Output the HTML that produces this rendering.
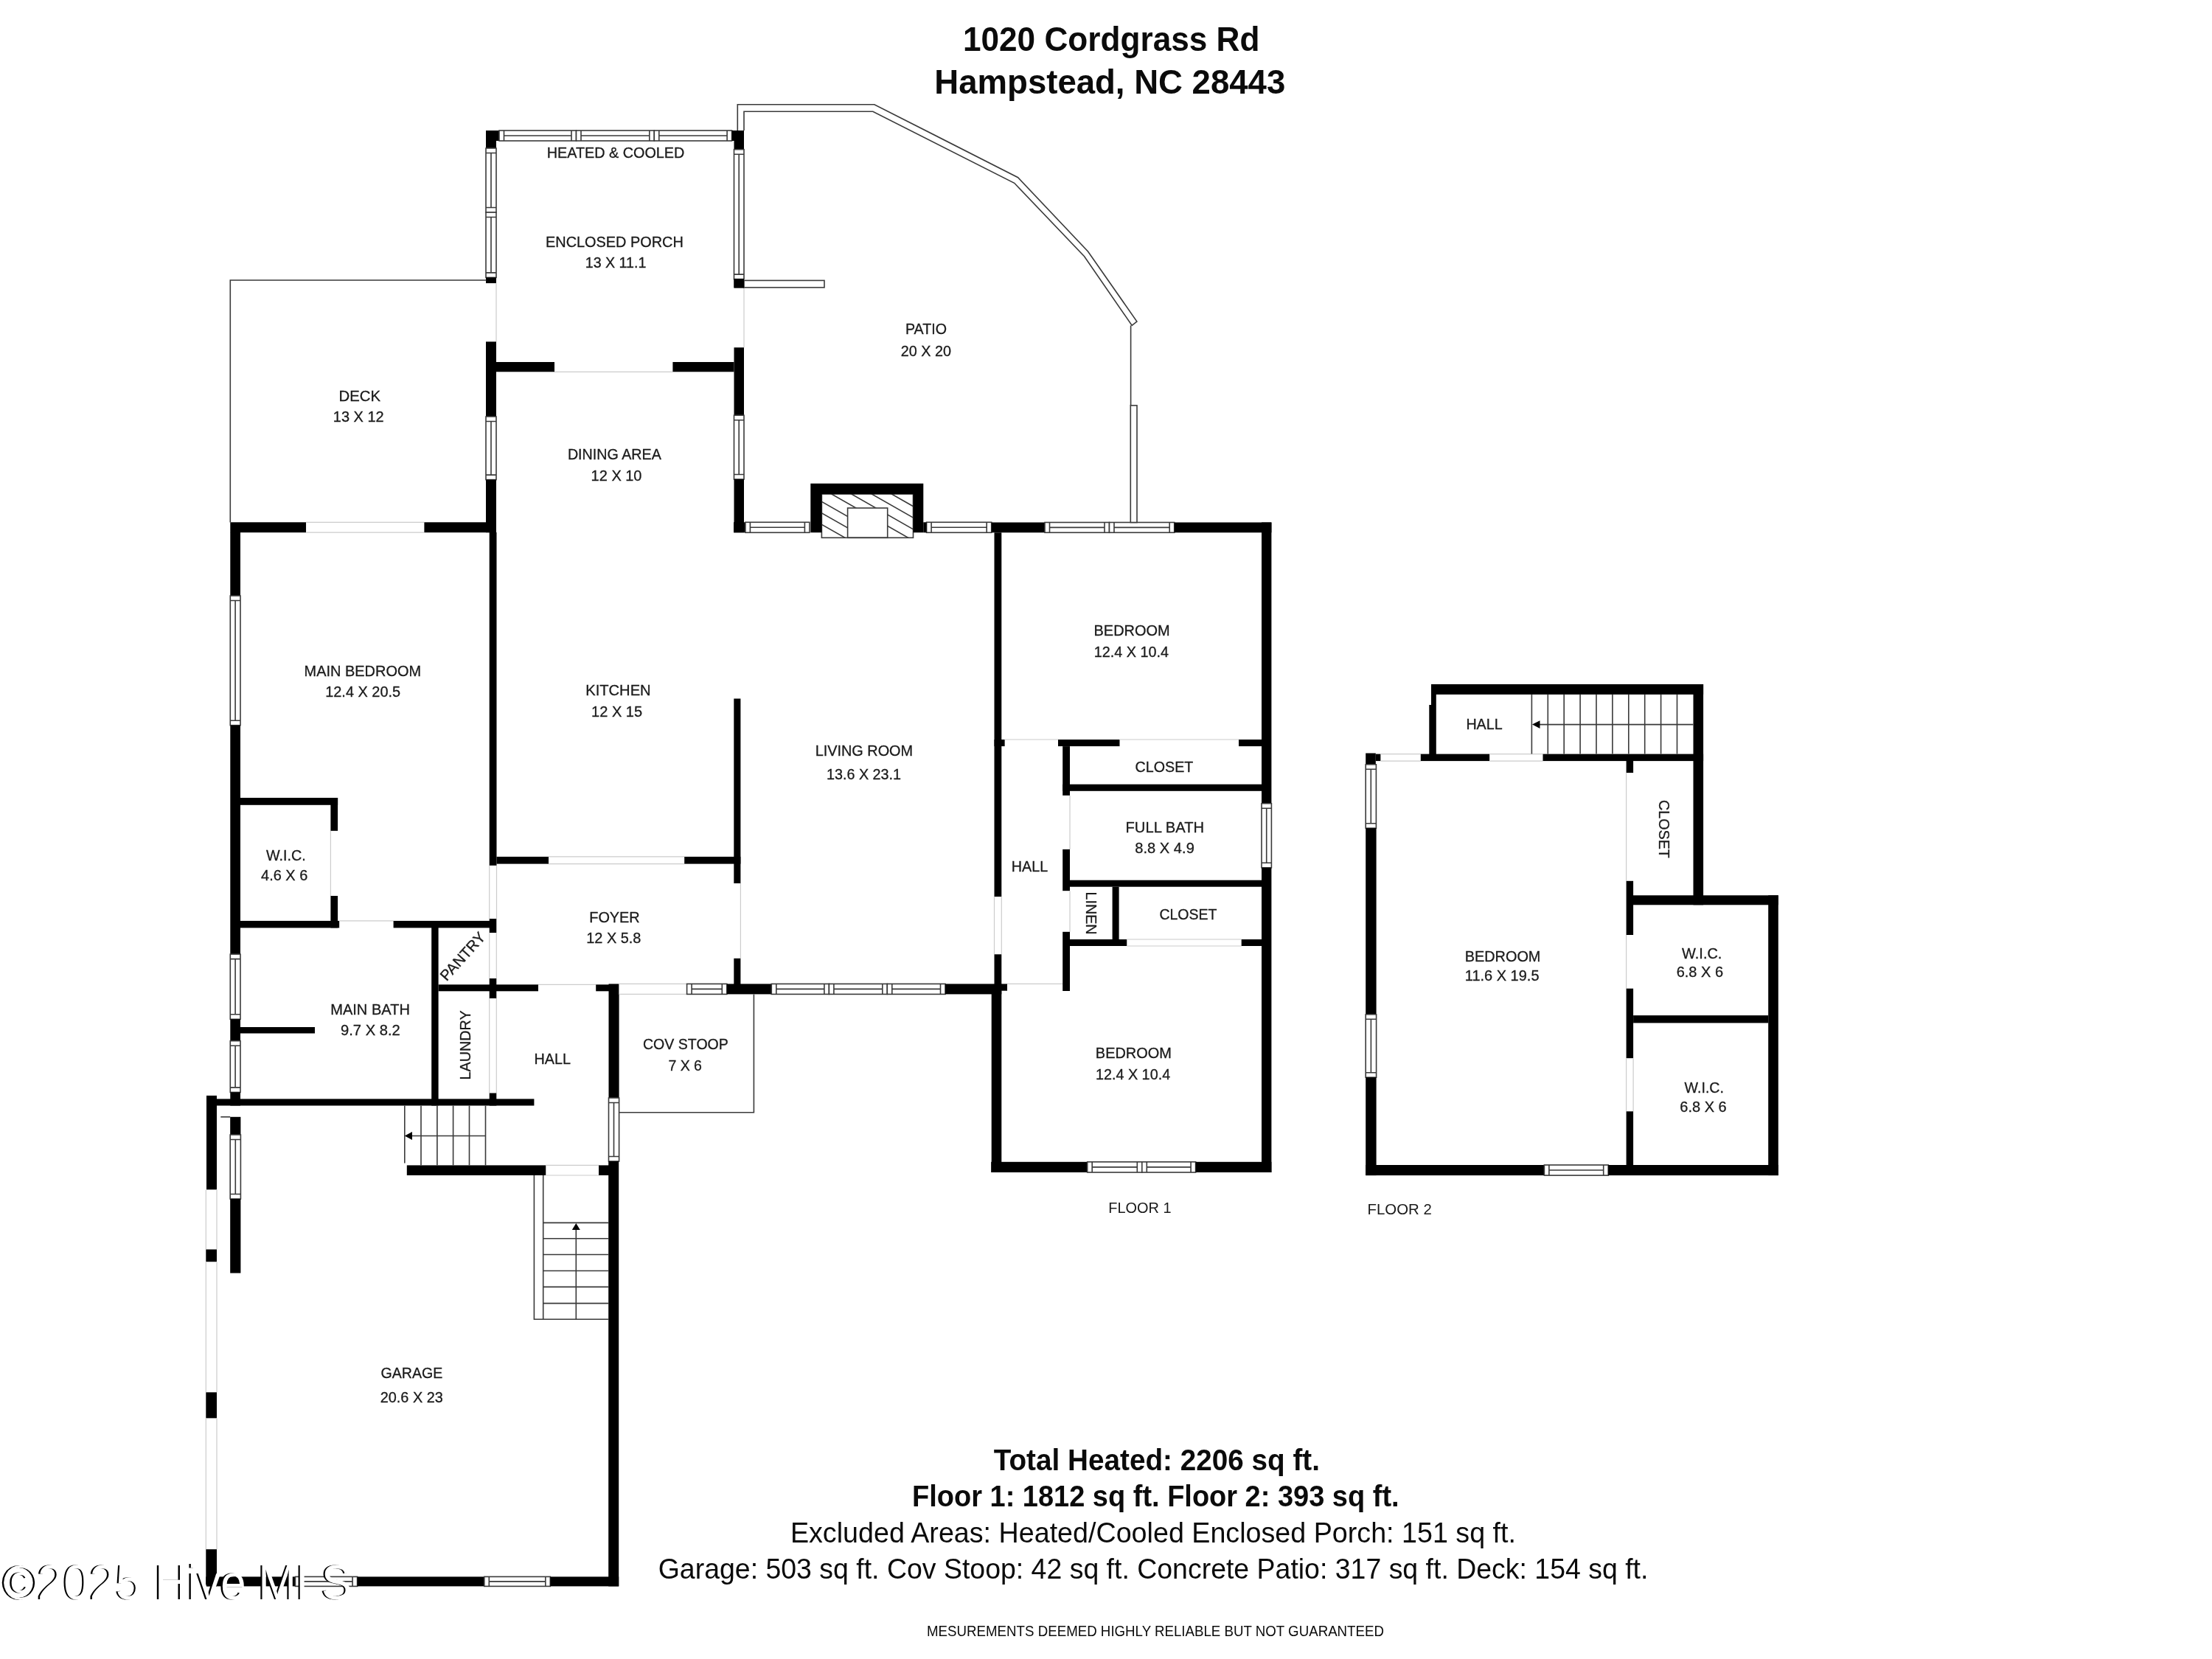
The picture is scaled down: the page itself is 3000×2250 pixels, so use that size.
<!DOCTYPE html>
<html><head><meta charset="utf-8"><style>
html,body{margin:0;padding:0;background:#fff;width:3000px;height:2250px;overflow:hidden}
svg{display:block}
svg{filter:grayscale(1)}
.wn{fill:#fff;stroke:#3a3a3a;stroke-width:1.6}
.ln{fill:none;stroke:#3a3a3a;stroke-width:1.6}
.gl{fill:none;stroke:#cccccc;stroke-width:1.2}
</style></head><body>
<svg width="3000" height="2250" viewBox="0 0 3000 2250">
<rect width="3000" height="2250" fill="#fff"/>
<g fill="#000">
<rect x="659.0" y="177.0" width="18.0" height="14.0"/>
<rect x="659.0" y="177.0" width="14.0" height="24.0"/>
<rect x="677.0" y="177.0" width="104.5" height="14.0" class="wn"/><path d="M683.5 177.0V191.0M775.0 177.0V191.0M683.5 184.0H775.0" class="ln"/>
<rect x="781.5" y="177.0" width="105.8" height="14.0" class="wn"/><path d="M788.0 177.0V191.0M880.8 177.0V191.0M788.0 184.0H880.8" class="ln"/>
<rect x="887.3" y="177.0" width="105.3" height="14.0" class="wn"/><path d="M893.8 177.0V191.0M986.1 177.0V191.0M893.8 184.0H986.1" class="ln"/>
<rect x="992.6" y="177.0" width="16.4" height="14.0"/>
<rect x="995.5" y="177.0" width="13.5" height="25.7"/>
<rect x="659.0" y="201.0" width="14.0" height="87.0" class="wn"/><path d="M659.0 207.5H673.0M659.0 281.5H673.0M666.0 207.5V281.5" class="ln"/>
<rect x="659.0" y="288.0" width="14.0" height="88.4" class="wn"/><path d="M659.0 294.5H673.0M659.0 369.9H673.0M666.0 294.5V369.9" class="ln"/>
<rect x="659.0" y="376.4" width="14.0" height="7.9"/>
<rect x="659.0" y="384.3" width="14.0" height="79.1" fill="#fff"/>
<path d="M673.0 384.3V463.4" class="gl"/>
<rect x="659.0" y="463.4" width="14.0" height="101.6"/>
<rect x="659.0" y="565.0" width="14.0" height="85.6" class="wn"/><path d="M659.0 571.5H673.0M659.0 644.1H673.0M666.0 571.5V644.1" class="ln"/>
<rect x="659.0" y="650.6" width="14.0" height="71.6"/>
<rect x="995.5" y="202.7" width="13.5" height="175.9" class="wn"/><path d="M995.5 209.2H1009.0M995.5 372.1H1009.0M1002.2 209.2V372.1" class="ln"/>
<rect x="995.5" y="378.6" width="13.5" height="11.4"/>
<rect x="995.5" y="390.0" width="13.5" height="81.3" fill="#fff"/>
<path d="M1009.0 390.0V471.3" class="gl"/>
<rect x="995.5" y="471.3" width="13.5" height="91.9"/>
<rect x="995.5" y="563.2" width="13.5" height="86.8" class="wn"/><path d="M995.5 569.7H1009.0M995.5 643.5H1009.0M1002.2 569.7V643.5" class="ln"/>
<rect x="995.5" y="650.0" width="13.5" height="72.2"/>
<rect x="673.0" y="491.0" width="79.0" height="13.3"/>
<rect x="752.0" y="491.0" width="160.4" height="13.3" fill="#fff"/>
<path d="M752.0 504.3H912.4" class="gl"/>
<rect x="912.4" y="491.0" width="83.1" height="13.3"/>
<rect x="312.3" y="708.3" width="102.9" height="13.9"/>
<rect x="415.2" y="708.3" width="160.2" height="13.9" fill="#fff"/>
<path d="M415.2 708.3H575.4M415.2 722.2H575.4" class="gl"/>
<rect x="575.4" y="708.3" width="97.6" height="13.9"/>
<rect x="312.3" y="722.0" width="13.7" height="86.0"/>
<rect x="312.3" y="808.0" width="13.7" height="175.7" class="wn"/><path d="M312.3 814.5H326.0M312.3 977.2H326.0M319.1 814.5V977.2" class="ln"/>
<rect x="312.3" y="983.7" width="13.7" height="310.4"/>
<rect x="312.3" y="1294.1" width="13.7" height="88.2" class="wn"/><path d="M312.3 1300.6H326.0M312.3 1375.8H326.0M319.1 1300.6V1375.8" class="ln"/>
<rect x="312.3" y="1382.3" width="13.7" height="29.4"/>
<rect x="312.3" y="1411.7" width="13.7" height="69.7" class="wn"/><path d="M312.3 1418.2H326.0M312.3 1474.9H326.0M319.1 1418.2V1474.9" class="ln"/>
<rect x="312.3" y="1481.4" width="13.7" height="18.1"/>
<rect x="663.7" y="722.0" width="9.8" height="451.9"/>
<rect x="663.7" y="1173.9" width="9.8" height="72.1" fill="#fff"/>
<path d="M663.7 1173.9V1246.0M673.5 1173.9V1246.0" class="gl"/>
<rect x="663.7" y="1246.0" width="9.6" height="19.2"/>
<rect x="663.7" y="1265.2" width="9.6" height="61.8" fill="#fff"/>
<path d="M663.7 1265.2V1327.0M673.3 1265.2V1327.0" class="gl"/>
<rect x="663.7" y="1327.0" width="9.6" height="27.0"/>
<rect x="663.7" y="1354.0" width="9.6" height="128.5" fill="#fff"/>
<path d="M663.7 1354.0V1482.5M673.3 1354.0V1482.5" class="gl"/>
<rect x="663.7" y="1482.5" width="9.6" height="17.0"/>
<rect x="326.0" y="1082.0" width="132.1" height="9.8"/>
<rect x="448.4" y="1082.0" width="9.7" height="44.9"/>
<rect x="448.4" y="1126.9" width="9.7" height="88.1" fill="#fff"/>
<path d="M448.4 1126.9V1215.0" class="gl"/>
<rect x="448.4" y="1215.0" width="9.7" height="43.4"/>
<rect x="326.0" y="1248.9" width="134.4" height="9.5"/>
<rect x="460.4" y="1248.9" width="73.2" height="9.5" fill="#fff"/>
<path d="M460.4 1248.9H533.6" class="gl"/>
<rect x="533.6" y="1248.9" width="130.4" height="9.5"/>
<rect x="326.0" y="1393.0" width="101.0" height="8.5"/>
<rect x="585.2" y="1249.0" width="9.4" height="250.5"/>
<rect x="594.6" y="1335.3" width="135.4" height="9.0"/>
<rect x="730.0" y="1335.3" width="78.2" height="9.0" fill="#fff"/>
<path d="M730.0 1335.3H808.2" class="gl"/>
<rect x="808.2" y="1335.3" width="17.8" height="9.0"/>
<rect x="280.0" y="1490.4" width="444.4" height="9.1"/>
<rect x="280.0" y="1485.9" width="14.0" height="127.7"/>
<rect x="825.5" y="1334.4" width="14.1" height="154.6"/>
<rect x="825.5" y="1489.0" width="14.1" height="86.0" class="wn"/><path d="M825.5 1495.5H839.6M825.5 1568.5H839.6M832.5 1495.5V1568.5" class="ln"/>
<rect x="825.2" y="1575.0" width="14.0" height="576.4"/>
<rect x="673.5" y="1161.9" width="70.5" height="9.7"/>
<rect x="744.0" y="1161.9" width="184.2" height="9.7" fill="#fff"/>
<path d="M744.0 1161.9H928.2M744.0 1171.6H928.2" class="gl"/>
<rect x="928.2" y="1161.9" width="76.2" height="9.7"/>
<rect x="995.3" y="947.5" width="9.1" height="250.5"/>
<rect x="995.3" y="1198.0" width="9.1" height="101.8" fill="#fff"/>
<path d="M1004.4 1198.0V1299.8" class="gl"/>
<rect x="995.3" y="1299.8" width="9.1" height="35.2"/>
<rect x="839.6" y="1334.4" width="92.0" height="14.0" fill="#fff"/>
<path d="M839.6 1334.4H931.6M839.6 1348.4H931.6" class="gl"/>
<rect x="931.6" y="1334.4" width="54.2" height="14.0" class="wn"/><path d="M938.1 1334.4V1348.4M979.3 1334.4V1348.4M938.1 1341.4H979.3" class="ln"/>
<rect x="985.8" y="1334.4" width="60.5" height="14.0"/>
<rect x="1046.3" y="1334.4" width="78.1" height="14.0" class="wn"/><path d="M1052.8 1334.4V1348.4M1117.9 1334.4V1348.4M1052.8 1341.4H1117.9" class="ln"/>
<rect x="1124.4" y="1334.4" width="78.9" height="14.0" class="wn"/><path d="M1130.9 1334.4V1348.4M1196.8 1334.4V1348.4M1130.9 1341.4H1196.8" class="ln"/>
<rect x="1203.3" y="1334.4" width="78.7" height="14.0" class="wn"/><path d="M1209.8 1334.4V1348.4M1275.5 1334.4V1348.4M1209.8 1341.4H1275.5" class="ln"/>
<rect x="1282.0" y="1334.4" width="76.3" height="14.0"/>
<rect x="1358.0" y="1334.4" width="8.1" height="9.3"/>
<rect x="1366.1" y="1334.4" width="74.9" height="9.3" fill="#fff"/>
<path d="M1366.1 1334.4H1441.0" class="gl"/>
<rect x="551.8" y="1580.4" width="188.7" height="13.6"/>
<rect x="740.5" y="1580.4" width="71.5" height="13.6" fill="#fff"/>
<path d="M740.5 1580.4H812.0M740.5 1594.0H812.0" class="gl"/>
<rect x="812.0" y="1580.4" width="14.0" height="13.6"/>
<rect x="312.2" y="1514.8" width="14.2" height="24.2"/>
<rect x="312.2" y="1539.0" width="14.2" height="87.0" class="wn"/><path d="M312.2 1545.5H326.4M312.2 1619.5H326.4M319.3 1545.5V1619.5" class="ln"/>
<rect x="312.2" y="1626.0" width="14.2" height="100.6"/>
<rect x="279.3" y="1613.6" width="14.7" height="80.9" fill="#fff"/>
<path d="M279.3 1613.6V1694.5M294.0 1613.6V1694.5" class="gl"/>
<rect x="279.3" y="1694.5" width="14.7" height="17.0"/>
<rect x="279.3" y="1711.5" width="14.7" height="176.8" fill="#fff"/>
<path d="M279.3 1711.5V1888.3M294.0 1711.5V1888.3" class="gl"/>
<rect x="279.3" y="1888.3" width="14.7" height="35.3"/>
<rect x="279.3" y="1923.6" width="14.7" height="177.6" fill="#fff"/>
<path d="M279.3 1923.6V2101.2M294.0 1923.6V2101.2" class="gl"/>
<rect x="279.3" y="2101.2" width="14.7" height="50.2"/>
<rect x="279.3" y="2138.4" width="121.2" height="13.0"/>
<rect x="400.5" y="2138.4" width="84.1" height="13.0" class="wn"/><path d="M407.0 2138.4V2151.4M478.1 2138.4V2151.4M407.0 2144.9H478.1" class="ln"/>
<rect x="484.6" y="2138.4" width="172.2" height="13.0"/>
<rect x="656.8" y="2138.4" width="89.5" height="13.0" class="wn"/><path d="M663.3 2138.4V2151.4M739.8 2138.4V2151.4M663.3 2144.9H739.8" class="ln"/>
<rect x="746.3" y="2138.4" width="92.9" height="13.0"/>
<rect x="995.0" y="708.3" width="16.0" height="14.0"/>
<rect x="1010.9" y="708.3" width="87.0" height="14.0" class="wn"/><path d="M1017.4 708.3V722.3M1091.4 708.3V722.3M1017.4 715.3H1091.4" class="ln"/>
<rect x="1256.6" y="708.3" width="88.1" height="14.0" class="wn"/><path d="M1263.1 708.3V722.3M1338.2 708.3V722.3M1263.1 715.3H1338.2" class="ln"/>
<rect x="1252.3" y="708.3" width="4.3" height="14.0"/>
<rect x="1344.7" y="708.5" width="72.3" height="13.8"/>
<rect x="1417.0" y="708.5" width="87.5" height="13.8" class="wn"/><path d="M1423.5 708.5V722.3M1498.0 708.5V722.3M1423.5 715.4H1498.0" class="ln"/>
<rect x="1504.5" y="708.5" width="88.2" height="13.8" class="wn"/><path d="M1511.0 708.5V722.3M1586.2 708.5V722.3M1511.0 715.4H1586.2" class="ln"/>
<rect x="1592.7" y="708.5" width="131.7" height="13.8"/>
<rect x="1348.5" y="722.3" width="9.8" height="494.0"/>
<rect x="1348.5" y="1216.3" width="9.8" height="78.0" fill="#fff"/>
<path d="M1348.5 1216.3V1294.3M1358.3 1216.3V1294.3" class="gl"/>
<rect x="1348.5" y="1294.3" width="9.8" height="40.7"/>
<rect x="1711.0" y="708.5" width="13.4" height="381.2"/>
<rect x="1711.0" y="1089.7" width="13.4" height="87.1" class="wn"/><path d="M1711.0 1096.2H1724.4M1711.0 1170.3H1724.4M1717.7 1096.2V1170.3" class="ln"/>
<rect x="1711.0" y="1176.8" width="13.4" height="413.2"/>
<rect x="1348.5" y="1003.0" width="14.3" height="9.1"/>
<rect x="1362.8" y="1003.0" width="72.2" height="9.1" fill="#fff"/>
<path d="M1362.8 1003.0H1435.0" class="gl"/>
<rect x="1435.0" y="1003.0" width="83.7" height="9.1"/>
<rect x="1518.7" y="1003.0" width="161.3" height="9.1" fill="#fff"/>
<path d="M1518.7 1003.0H1680.0" class="gl"/>
<rect x="1680.0" y="1003.0" width="32.0" height="9.1"/>
<rect x="1441.2" y="1012.1" width="9.8" height="66.8"/>
<rect x="1441.2" y="1078.9" width="9.8" height="73.0" fill="#fff"/>
<path d="M1451.0 1078.9V1151.9" class="gl"/>
<rect x="1441.2" y="1151.9" width="9.8" height="56.5"/>
<rect x="1441.2" y="1208.4" width="9.8" height="55.4" fill="#fff"/>
<path d="M1451.0 1208.4V1263.8" class="gl"/>
<rect x="1441.2" y="1263.8" width="9.8" height="80.2"/>
<rect x="1441.2" y="1063.7" width="270.8" height="9.1"/>
<rect x="1451.0" y="1193.7" width="261.0" height="9.0"/>
<rect x="1508.6" y="1202.7" width="9.0" height="71.3"/>
<rect x="1451.0" y="1274.0" width="77.5" height="9.0"/>
<rect x="1528.5" y="1274.0" width="155.2" height="9.0" fill="#fff"/>
<path d="M1528.5 1274.0H1683.7M1528.5 1283.0H1683.7" class="gl"/>
<rect x="1683.7" y="1274.0" width="28.3" height="9.0"/>
<rect x="1344.7" y="1343.7" width="13.6" height="246.3"/>
<rect x="1344.2" y="1575.8" width="130.5" height="14.2"/>
<rect x="1474.7" y="1575.8" width="74.1" height="14.2" class="wn"/><path d="M1481.2 1575.8V1590.0M1542.3 1575.8V1590.0M1481.2 1582.9H1542.3" class="ln"/>
<rect x="1548.8" y="1575.8" width="72.8" height="14.2" class="wn"/><path d="M1555.3 1575.8V1590.0M1615.1 1575.8V1590.0M1555.3 1582.9H1615.1" class="ln"/>
<rect x="1621.6" y="1575.8" width="102.8" height="14.2"/>
<rect x="1941.0" y="928.0" width="369.1" height="13.9"/>
<rect x="1941.0" y="928.0" width="6.8" height="28.0"/>
<rect x="1938.3" y="956.0" width="9.5" height="76.0"/>
<rect x="2296.5" y="928.0" width="13.6" height="299.3"/>
<rect x="1852.2" y="1021.5" width="13.6" height="15.3"/>
<rect x="1865.8" y="1022.6" width="6.8" height="9.5"/>
<rect x="1872.6" y="1022.6" width="54.2" height="9.5" fill="#fff"/>
<path d="M1872.6 1022.6H1926.8M1872.6 1032.1H1926.8" class="gl"/>
<rect x="1926.8" y="1022.6" width="93.6" height="9.5"/>
<rect x="2020.4" y="1022.6" width="72.1" height="9.5" fill="#fff"/>
<path d="M2020.4 1022.6H2092.5M2020.4 1032.1H2092.5" class="gl"/>
<rect x="2092.5" y="1022.6" width="217.6" height="9.5"/>
<rect x="1852.2" y="1036.8" width="14.2" height="86.4" class="wn"/><path d="M1852.2 1043.3H1866.4M1852.2 1116.7H1866.4M1859.3 1043.3V1116.7" class="ln"/>
<rect x="1852.2" y="1123.2" width="14.4" height="252.6"/>
<rect x="1852.2" y="1375.8" width="14.4" height="85.4" class="wn"/><path d="M1852.2 1382.3H1866.6M1852.2 1454.7H1866.6M1859.4 1382.3V1454.7" class="ln"/>
<rect x="1852.2" y="1461.2" width="14.4" height="132.9"/>
<rect x="1852.2" y="1580.0" width="242.2" height="14.1"/>
<rect x="2094.4" y="1580.0" width="86.8" height="14.1" class="wn"/><path d="M2100.9 1580.0V1594.1M2174.7 1580.0V1594.1M2100.9 1587.0H2174.7" class="ln"/>
<rect x="2181.2" y="1580.0" width="230.6" height="14.1"/>
<rect x="2205.6" y="1032.0" width="9.5" height="16.3"/>
<rect x="2205.6" y="1048.3" width="9.5" height="146.5" fill="#fff"/>
<path d="M2205.6 1048.3V1194.8" class="gl"/>
<rect x="2205.6" y="1194.8" width="9.5" height="73.2"/>
<rect x="2205.6" y="1268.0" width="9.5" height="72.7" fill="#fff"/>
<path d="M2205.6 1268.0V1340.7" class="gl"/>
<rect x="2205.6" y="1340.7" width="9.5" height="94.7"/>
<rect x="2205.6" y="1435.4" width="9.5" height="71.9" fill="#fff"/>
<path d="M2205.6 1435.4V1507.3M2215.1 1435.4V1507.3" class="gl"/>
<rect x="2205.6" y="1507.3" width="9.5" height="86.7"/>
<rect x="2215.0" y="1214.3" width="196.8" height="13.0"/>
<rect x="2398.2" y="1214.3" width="13.6" height="379.8"/>
<rect x="2215.1" y="1377.1" width="183.1" height="10.3"/>
</g>
<path d="M312.3 708.5V380H659.5" fill="none" stroke="#3a3a3a" stroke-width="1.6"/>
<path d="M839.6 1508.7H1022.4V1348.4" fill="none" stroke="#3a3a3a" stroke-width="1.6"/>
<path d="M548.8 1499.5V1577.4M571 1499.5V1580.4M592.9 1499.5V1580.4M614.6 1499.5V1580.4M636.5 1499.5V1580.4M658.5 1499.5V1580.4M552 1540.5H658.5" fill="none" stroke="#3a3a3a" stroke-width="1.6"/>
<path d="M548.8 1540.5L559 1535V1546Z" fill="#000"/>
<path d="M724.4 1594V1789.3H825M736.7 1594V1789.3M736.7 1658.4H825M736.7 1679.8H825M736.7 1701.5H825M736.7 1723.5H825M736.7 1745.4H825M736.7 1767.6H825M781.3 1664V1789.3" fill="none" stroke="#3a3a3a" stroke-width="1.6"/>
<path d="M781.3 1659L775.8 1668H786.8Z" fill="#000"/>
<path d="M299.3 1514.8H312.2" fill="none" stroke="#3a3a3a" stroke-width="1.6"/>
<path d="M2077.4 941.9V1022.6M2099.3 941.9V1022.6M2121.2 941.9V1022.6M2143.1 941.9V1022.6M2165.0 941.9V1022.6M2186.9 941.9V1022.6M2208.8 941.9V1022.6M2230.7 941.9V1022.6M2252.6 941.9V1022.6M2274.5 941.9V1022.6M2082 982.6H2296.5" fill="none" stroke="#3a3a3a" stroke-width="1.6"/>
<path d="M2078 982.6L2088.5 977.2V988Z" fill="#000"/>
<path d="M1000.3 177V141.7H1185.8L1380.6 240.7L1475.5 341L1541.9 436L1535.2 441.4L1470.6 347.8L1375.7 248.3L1183.9 151.2H1009V177" fill="#fff" stroke="#3a3a3a" stroke-width="1.6"/>
<path d="M1533.6 441.4V550" fill="none" stroke="#3a3a3a" stroke-width="1.6"/>
<rect x="1533.3" y="549.9" width="8.7" height="158.6" fill="#fff" stroke="#3a3a3a" stroke-width="1.6"/>
<rect x="1009" y="380.4" width="109" height="9.5" fill="#fff" stroke="#3a3a3a" stroke-width="1.6"/>
<rect x="995.4" y="378.2" width="13.6" height="12.5" fill="#000"/>
<defs><clipPath id="fpc"><path d="M1114.2 669.9H1238.5V729.1H1114.2ZM1149.2 688.8V729.1H1203V688.8Z" clip-rule="evenodd"/></clipPath></defs>
<rect x="1114.4" y="669.9" width="124.1" height="59.4" fill="#fff" stroke="#3a3a3a" stroke-width="1.6"/>
<path d="M1001.8 647.1L1241.8 783.9M1029.0 647.1L1269.0 783.9M1056.0 647.1L1296.0 783.9M1087.5 647.1L1327.5 783.9M1114.5 647.1L1354.5 783.9M1142.0 647.1L1382.0 783.9M1169.0 647.1L1409.0 783.9" stroke="#3a3a3a" stroke-width="1.6" clip-path="url(#fpc)"/>
<rect x="1149.6" y="689" width="54.1" height="40.3" fill="none" stroke="#3a3a3a" stroke-width="1.6"/>
<path d="M1099.3 655.7H1252.3V722.3H1238.5V670.3H1114.4V722.3H1099.3Z" fill="#000"/>
<g font-family="Liberation Sans, sans-serif" font-size="20.3" fill="#1a1a1a" stroke="#1a1a1a" stroke-width="0.3">
<text x="741.67" y="213.80" font-size="20.3" textLength="186.68" lengthAdjust="spacingAndGlyphs">HEATED &amp; COOLED</text>
<text x="740.06" y="334.70" font-size="20.3" textLength="186.70" lengthAdjust="spacingAndGlyphs">ENCLOSED PORCH</text>
<text x="793.73" y="363.00" font-size="20.3" textLength="82.65" lengthAdjust="spacingAndGlyphs">13 X 11.1</text>
<text x="459.52" y="543.90" font-size="20.3" textLength="56.50" lengthAdjust="spacingAndGlyphs">DECK</text>
<text x="451.80" y="571.50" font-size="20.3" textLength="68.84" lengthAdjust="spacingAndGlyphs">13 X 12</text>
<text x="769.88" y="623.20" font-size="20.3" textLength="126.94" lengthAdjust="spacingAndGlyphs">DINING AREA</text>
<text x="801.60" y="651.90" font-size="20.3" textLength="68.90" lengthAdjust="spacingAndGlyphs">12 X 10</text>
<text x="1227.98" y="452.70" font-size="20.3" textLength="56.05" lengthAdjust="spacingAndGlyphs">PATIO</text>
<text x="1221.81" y="482.60" font-size="20.3" textLength="68.28" lengthAdjust="spacingAndGlyphs">20 X 20</text>
<text x="412.55" y="916.70" font-size="20.3" textLength="158.49" lengthAdjust="spacingAndGlyphs">MAIN BEDROOM</text>
<text x="441.21" y="945.00" font-size="20.3" textLength="101.90" lengthAdjust="spacingAndGlyphs">12.4 X 20.5</text>
<text x="794.24" y="943.40" font-size="20.3" textLength="88.41" lengthAdjust="spacingAndGlyphs">KITCHEN</text>
<text x="802.10" y="972.10" font-size="20.3" textLength="68.95" lengthAdjust="spacingAndGlyphs">12 X 15</text>
<text x="1105.66" y="1025.40" font-size="20.3" textLength="132.48" lengthAdjust="spacingAndGlyphs">LIVING ROOM</text>
<text x="1120.92" y="1057.00" font-size="20.3" textLength="101.13" lengthAdjust="spacingAndGlyphs">13.6 X 23.1</text>
<text x="1483.55" y="862.20" font-size="20.3" textLength="103.08" lengthAdjust="spacingAndGlyphs">BEDROOM</text>
<text x="1483.71" y="890.90" font-size="20.3" textLength="101.44" lengthAdjust="spacingAndGlyphs">12.4 X 10.4</text>
<text x="1539.62" y="1046.80" font-size="20.3" textLength="78.65" lengthAdjust="spacingAndGlyphs">CLOSET</text>
<text x="1526.54" y="1128.50" font-size="20.3" textLength="106.51" lengthAdjust="spacingAndGlyphs">FULL BATH</text>
<text x="1539.35" y="1156.60" font-size="20.3" textLength="80.47" lengthAdjust="spacingAndGlyphs">8.8 X 4.9</text>
<text x="1371.77" y="1181.70" font-size="20.3" textLength="49.40" lengthAdjust="spacingAndGlyphs">HALL</text>
<text x="1572.42" y="1246.50" font-size="20.3" textLength="78.14" lengthAdjust="spacingAndGlyphs">CLOSET</text>
<text x="361.00" y="1166.70" font-size="20.3" textLength="53.77" lengthAdjust="spacingAndGlyphs">W.I.C.</text>
<text x="354.05" y="1194.40" font-size="20.3" textLength="63.23" lengthAdjust="spacingAndGlyphs">4.6 X 6</text>
<text x="799.26" y="1251.30" font-size="20.3" textLength="68.48" lengthAdjust="spacingAndGlyphs">FOYER</text>
<text x="795.31" y="1278.70" font-size="20.3" textLength="74.14" lengthAdjust="spacingAndGlyphs">12 X 5.8</text>
<text x="448.25" y="1375.90" font-size="20.3" textLength="107.62" lengthAdjust="spacingAndGlyphs">MAIN BATH</text>
<text x="462.04" y="1404.10" font-size="20.3" textLength="80.78" lengthAdjust="spacingAndGlyphs">9.7 X 8.2</text>
<text x="724.47" y="1442.90" font-size="20.3" textLength="49.40" lengthAdjust="spacingAndGlyphs">HALL</text>
<text x="872.02" y="1423.20" font-size="20.3" textLength="115.80" lengthAdjust="spacingAndGlyphs">COV STOOP</text>
<text x="906.38" y="1451.90" font-size="20.3" textLength="45.55" lengthAdjust="spacingAndGlyphs">7 X 6</text>
<text x="1485.85" y="1435.40" font-size="20.3" textLength="103.08" lengthAdjust="spacingAndGlyphs">BEDROOM</text>
<text x="1485.92" y="1464.30" font-size="20.3" textLength="101.24" lengthAdjust="spacingAndGlyphs">12.4 X 10.4</text>
<text x="516.62" y="1869.00" font-size="20.3" textLength="83.69" lengthAdjust="spacingAndGlyphs">GARAGE</text>
<text x="515.71" y="1901.60" font-size="20.3" textLength="85.17" lengthAdjust="spacingAndGlyphs">20.6 X 23</text>
<text x="1988.38" y="989.00" font-size="20.3" textLength="49.19" lengthAdjust="spacingAndGlyphs">HALL</text>
<text x="1986.66" y="1304.30" font-size="20.3" textLength="102.77" lengthAdjust="spacingAndGlyphs">BEDROOM</text>
<text x="1986.80" y="1330.10" font-size="20.3" textLength="100.72" lengthAdjust="spacingAndGlyphs">11.6 X 19.5</text>
<text x="2281.10" y="1300.30" font-size="20.3" textLength="54.29" lengthAdjust="spacingAndGlyphs">W.I.C.</text>
<text x="2273.70" y="1324.70" font-size="20.3" textLength="63.38" lengthAdjust="spacingAndGlyphs">6.8 X 6</text>
<text x="2284.60" y="1482.10" font-size="20.3" textLength="53.36" lengthAdjust="spacingAndGlyphs">W.I.C.</text>
<text x="2278.30" y="1507.60" font-size="20.3" textLength="63.38" lengthAdjust="spacingAndGlyphs">6.8 X 6</text>
<text transform="translate(1473.2 0) rotate(90)" x="1209.47" y="0" font-size="20.3" textLength="58.06" lengthAdjust="spacingAndGlyphs">LINEN</text>
<text transform="translate(638.2 0) rotate(-90)" x="-1464.53" y="0" font-size="20.3" textLength="94.14" lengthAdjust="spacingAndGlyphs">LAUNDRY</text>
<text transform="translate(2250.2 0) rotate(90)" x="1085.01" y="0" font-size="20.3" textLength="78.85" lengthAdjust="spacingAndGlyphs">CLOSET</text>
<text transform="translate(627.5 1297) rotate(-48)" x="0" y="7" text-anchor="middle">PANTRY</text>
</g>
<g font-family="Liberation Sans, sans-serif" font-size="21" fill="#1a1a1a">
<text x="1503.25" y="1645.00" font-size="21" textLength="85.42" lengthAdjust="spacingAndGlyphs">FLOOR 1</text>
<text x="1854.52" y="1646.60" font-size="21" textLength="87.33" lengthAdjust="spacingAndGlyphs">FLOOR 2</text>
</g>
<g font-family="Liberation Sans, sans-serif" font-weight="bold" fill="#0b0b0f">
<text x="1305.94" y="68.80" font-size="46" textLength="402.53" lengthAdjust="spacingAndGlyphs">1020 Cordgrass Rd</text>
<text x="1267.33" y="127.10" font-size="46" textLength="475.96" lengthAdjust="spacingAndGlyphs">Hampstead, NC 28443</text>
<text x="1347.71" y="1993.80" font-size="41" textLength="442.26" lengthAdjust="spacingAndGlyphs">Total Heated: 2206 sq ft.</text>
<text x="1237.04" y="2042.80" font-size="41" textLength="660.56" lengthAdjust="spacingAndGlyphs">Floor 1: 1812 sq ft. Floor 2: 393 sq ft.</text>
</g>
<g font-family="Liberation Sans, sans-serif" fill="#0b0b0f">
<text x="1071.89" y="2091.90" font-size="39" textLength="984.11" lengthAdjust="spacingAndGlyphs">Excluded Areas: Heated/Cooled Enclosed Porch: 151 sq ft.</text>
<text x="892.74" y="2141.00" font-size="39" textLength="1342.69" lengthAdjust="spacingAndGlyphs">Garage: 503 sq ft. Cov Stoop: 42 sq ft. Concrete Patio: 317 sq ft.  Deck: 154 sq ft.</text>
<text x="1257.06" y="2218.50" font-size="21" textLength="619.94" lengthAdjust="spacingAndGlyphs">MESUREMENTS DEEMED HIGHLY RELIABLE BUT NOT GUARANTEED</text>
</g>
<g font-family="Liberation Sans, sans-serif" font-size="66">
<text x="1.75" y="2168.8" fill="#000" textLength="188.29" lengthAdjust="spacingAndGlyphs">©2025</text>
<text x="207.82" y="2168.8" fill="#000" textLength="266.98" lengthAdjust="spacingAndGlyphs">Hive MLS</text>
<text x="4.15" y="2168.8" fill="#fff" textLength="188.29" lengthAdjust="spacingAndGlyphs">©2025</text>
<text x="210.22" y="2168.8" fill="#fff" textLength="266.98" lengthAdjust="spacingAndGlyphs">Hive MLS</text>
</g>
</svg></body></html>
